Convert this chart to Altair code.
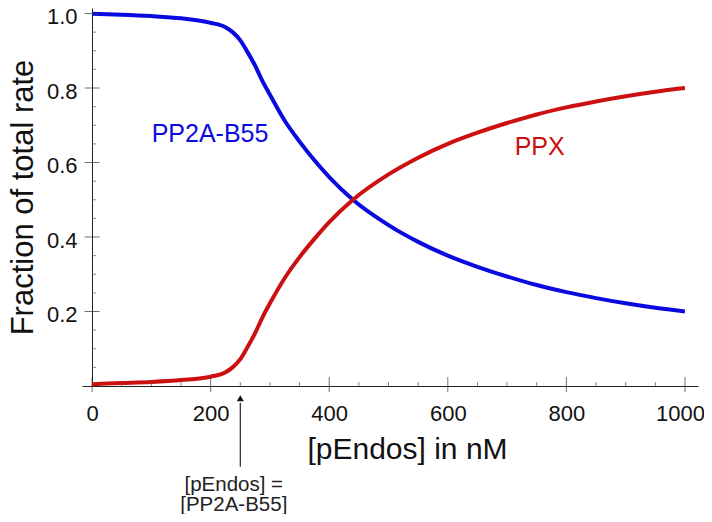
import altair as alt
import pandas as pd

# data
x_vals = [0, 50, 100, 150, 200, 225, 237, 250, 262, 275, 287, 300, 325, 350, 375, 400, 440, 500, 550, 600, 650, 700, 750, 800, 850, 900, 950, 1000]
ppx = [0.005, 0.008, 0.011, 0.016, 0.025, 0.037, 0.05, 0.072, 0.104, 0.142, 0.183, 0.222, 0.29, 0.346, 0.395, 0.44, 0.50, 0.568, 0.613, 0.65, 0.68, 0.706, 0.729, 0.748, 0.764, 0.778, 0.79, 0.80]
pp2a = [0.9995, 0.997, 0.993, 0.987, 0.975, 0.963, 0.95, 0.928, 0.897, 0.86, 0.82, 0.782, 0.712, 0.656, 0.606, 0.561, 0.50, 0.432, 0.387, 0.35, 0.32, 0.294, 0.271, 0.252, 0.236, 0.222, 0.21, 0.20]
series_names = ["PP2A-B55", "PPX"]
series_colors = ["#0a0ae0", "#cc1010"]

x_major = [0, 200, 400, 600, 800, 1000]
x_minor = [50, 100, 150, 250, 300, 350, 450, 500, 550, 650, 700, 750, 850, 900, 950]
y_major = [0.2, 0.4, 0.6, 0.8, 1.0]
y_minor = [0.05, 0.1, 0.15, 0.25, 0.3, 0.35, 0.45, 0.5, 0.55, 0.65, 0.7, 0.75, 0.85, 0.9, 0.95]

curve_labels = ["PP2A-B55", "PPX"]
curve_label_x = [199, 755]
curve_label_y = [0.655, 0.620]

arrow_x = 250
arrow_y = [-0.217, -0.045]
arrow_tip_y = -0.033
note_lines = ["[pEndos] =", "[PP2A-B55]"]
note_x = [239, 239]
note_y = [-0.2819, -0.3356]

FONT = "Liberation Sans"

curves = pd.DataFrame({
    "x": x_vals * 2,
    "frac": pp2a + ppx,
    "series": [series_names[0]] * len(x_vals) + [series_names[1]] * len(x_vals),
})

xs = alt.Scale(domain=[-17, 1022], nice=False, zero=False)
ys = alt.Scale(domain=[0, 1.0148], nice=False, zero=False)

lines = alt.Chart(curves).mark_line(strokeWidth=4, interpolate="monotone").encode(
    x=alt.X("x:Q", scale=xs, axis=alt.Axis(
        values=x_major, format="d", ticks=False, grid=False, domainColor="#222", domainWidth=1,
        labelFont=FONT, labelFontSize=22, labelColor="#111", labelPadding=17, labelFlush=False,
        labelOffset={"condition": {"test": "datum.value == 1000", "value": -5}, "value": 0},
        title="[pEndos] in nM", titleFont=FONT, titleFontSize=30, titleFontWeight="normal",
        titleColor="#111", titleX=325, titleY=72, titleBaseline="alphabetic", titleAlign="center")),
    y=alt.Y("frac:Q", scale=ys, axis=alt.Axis(
        values=y_major, format=".1f", ticks=False, grid=False, offset=-10, domainColor="#222",
        domainWidth=1, labelFont=FONT, labelFontSize=22, labelColor="#111", labelPadding=15,
        labelFlush=False, labelOffset=3,
        title="Fraction of total rate", titleFont=FONT, titleFontSize=31, titleFontWeight="normal",
        titleColor="#111", titleX=-60, titleY=189, titleBaseline="alphabetic", titleAlign="center",
        titleAngle=270)),
    color=alt.Color("series:N", scale=alt.Scale(domain=series_names, range=series_colors), legend=None),
)

xmaj = alt.Chart(pd.DataFrame({"x": x_major, "frac": [0] * len(x_major)})).mark_tick(
    orient="vertical", size=15, thickness=1, color="#333", yOffset=-1.5).encode(x="x:Q", y="frac:Q")
xmin = alt.Chart(pd.DataFrame({"x": x_minor, "frac": [0] * len(x_minor)})).mark_tick(
    orient="vertical", size=4, thickness=1, color="#555", yOffset=-2).encode(x="x:Q", y="frac:Q")
ymaj = alt.Chart(pd.DataFrame({"x": [0] * len(y_major), "frac": y_major})).mark_tick(
    orient="horizontal", size=15, thickness=1, color="#333").encode(x="x:Q", y="frac:Q")
ymin = alt.Chart(pd.DataFrame({"x": [0] * len(y_minor), "frac": y_minor})).mark_tick(
    orient="horizontal", size=4, thickness=1, color="#555", xOffset=2).encode(x="x:Q", y="frac:Q")

lab_df = pd.DataFrame({"x": curve_label_x, "frac": curve_label_y, "txt": curve_labels, "series": series_names})
labels = alt.Chart(lab_df).mark_text(font=FONT, fontSize=25, align="center", baseline="alphabetic").encode(
    x="x:Q", y="frac:Q", text="txt:N",
    color=alt.Color("series:N", scale=alt.Scale(domain=series_names, range=series_colors), legend=None))

arrow = alt.Chart(pd.DataFrame({"x": [arrow_x], "frac": [arrow_y[0]], "frac2": [arrow_y[1]]})).mark_rule(
    color="#222", strokeWidth=1.2).encode(x="x:Q", y="frac:Q", y2="frac2:Q")
tip = alt.Chart(pd.DataFrame({"x": [arrow_x], "frac": [arrow_tip_y]})).mark_point(
    shape="triangle-up", filled=True, size=50, color="#111", opacity=1).encode(x="x:Q", y="frac:Q")
note = alt.Chart(pd.DataFrame({"x": note_x, "frac": note_y, "txt": note_lines})).mark_text(
    font=FONT, fontSize=20.5, align="center", baseline="alphabetic", color="#222").encode(
    x="x:Q", y="frac:Q", text="txt:N")

chart = alt.layer(lines, xmaj, xmin, ymaj, ymin, labels, arrow, tip, note).properties(
    width=616, height=378,
    autosize=alt.AutoSizeParams(type="none"),
    padding={"left": 74, "top": 0, "right": 6, "bottom": 128},
).configure_view(stroke=None).configure_axis(grid=False, ticks=False)

chart.save("out.html", embed_options={"renderer": "svg", "actions": False})
